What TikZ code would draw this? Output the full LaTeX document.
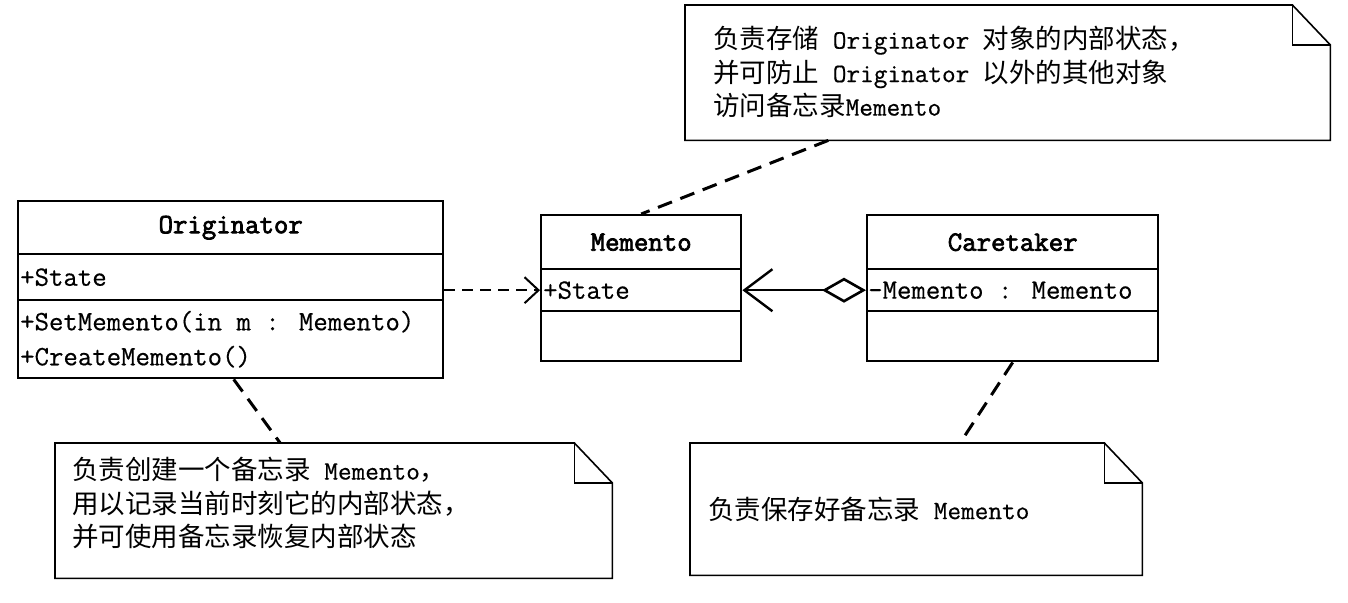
\documentclass[tikz,border=0pt]{standalone}
\usepackage{fontspec}
\newfontfamily\cjk{Noto Sans CJK SC}
\newfontfamily\monoreg{Latin Modern Mono}[FakeBold=0.5]
\newfontfamily\monobf{Latin Modern Mono}[FakeBold=2.6]
\usetikzlibrary{arrows.meta,calc}
\begin{document}
\begin{tikzpicture}[x=1pt,y=-1pt,
  comp/.style={draw, line width=2.4pt, inner sep=0pt, anchor=north west},
  cname/.style={font=\monobf\fontsize{28}{34}\selectfont},
  ctext/.style={font=\monoreg\fontsize{28}{35}\selectfont, inner sep=0pt, anchor=west, align=left},
  notebox/.style={inner sep=0pt, anchor=north west},
  notetext/.style={font=\monoreg\fontsize{26.5}{33.5}\selectfont, inner sep=0pt, anchor=west, align=left},
  noteline/.style={line width=1.6pt, line join=miter},
  notelink/.style={line width=3pt, dash pattern=on 15pt off 9pt},
  dep/.style={line width=2pt, dash pattern=on 11pt off 7pt, -{Straight Barb[length=14pt,width=26pt,line width=2pt]}},
  agg/.style={line width=2pt, {Diamond[open,length=44pt,width=25pt,line width=2.6pt]}-{Straight Barb[length=28pt,width=42pt,line width=2.4pt]}}
]
\useasboundingbox (0,0) rectangle (1348,602);
\fill[white] (0,0) rectangle (1348,602);

% Originator
\node[comp, minimum width=425pt, minimum height=53pt, cname] (oN) at (17,200) {Originator};
\node[comp, minimum width=425pt, minimum height=46pt] (oA) at (17,253) {};
\node[comp, minimum width=425pt, minimum height=78pt] (oO) at (17,299) {};
\node[ctext] (oAt) at ([xshift=3pt]oA.west) {+State};
\node[ctext] (oOt) at ([xshift=3pt]oO.west) {+SetMemento(in m : Memento)\\+CreateMemento()};

% Memento
\node[comp, minimum width=200pt, minimum height=54pt, cname] (mN) at (540,214) {Memento};
\node[comp, minimum width=200pt, minimum height=42pt] (mA) at (540,268) {};
\node[comp, minimum width=200pt, minimum height=50pt] (mO) at (540,310) {};
\node[ctext] (mAt) at ([xshift=3pt]mA.west) {+State};

% Caretaker
\node[comp, minimum width=291pt, minimum height=54pt, cname] (cN) at (866,214) {Caretaker};
\node[comp, minimum width=291pt, minimum height=42pt] (cA) at (866,268) {};
\node[comp, minimum width=291pt, minimum height=50pt] (cO) at (866,310) {};
\node[ctext] (cAt) at ([xshift=2pt]cA.west) {-Memento : Memento};

% Notes
\node[notebox, minimum width=645pt, minimum height=135pt] (n0) at (685,5) {};
\node[notebox, minimum width=557pt, minimum height=135pt] (n1) at (55,443) {};
\node[notebox, minimum width=452pt, minimum height=132pt] (n2) at (690,443) {};
\foreach \n in {n0,n1,n2}{
  \draw[noteline] (\n.north west) -- ([xshift=-38pt]\n.north east) -- ([yshift=-40pt]\n.north east)
    -- (\n.south east) -- (\n.south west) -- cycle;
  \draw[noteline] ([xshift=-38pt]\n.north east) |- ([yshift=-40pt]\n.north east);
}
\node[notetext] (n0t) at (713,72) {{\cjk 负责存储} Originator {\cjk 对象的内部状态，}\\
  {\cjk 并可防止} Originator {\cjk 以外的其他对象}\\
  {\cjk 访问备忘录}Memento};
\node[notetext] (n1t) at (72,503) {{\cjk 负责创建一个备忘录} Memento{\cjk ，}\\
  {\cjk 用以记录当前时刻它的内部状态，}\\
  {\cjk 并可使用备忘录恢复内部状态}};
\node[notetext] (n2t) at (708,509) {{\cjk 负责保存好备忘录} Memento};

% Connectors
\draw[dep] (oA.east |- mA.west) -- (mA.west);
\draw[agg] (cA.west) -- (mA.east);
\draw[notelink] ($(n0.south west)!0.222!(n0.south east)$) -- (mN.north);
\draw[notelink] ([xshift=3pt]oO.south) -- ($(n1.north west)!0.404!(n1.north east)$);
\draw[notelink] (cO.south) -- ($(n2.north west)!0.597!(n2.north east)$);
\end{tikzpicture}
\end{document}
